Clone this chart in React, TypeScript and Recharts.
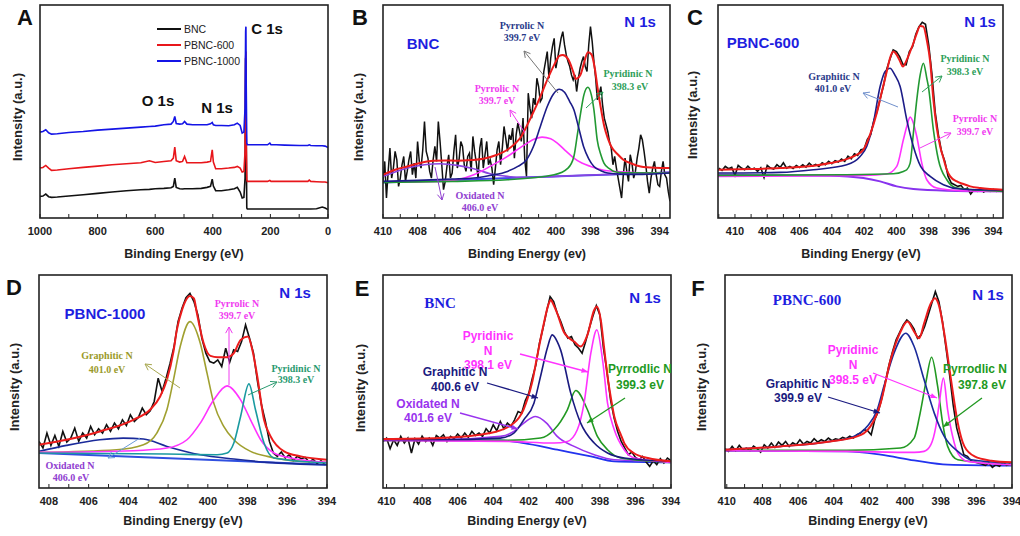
import React from "react";
import { LineChart, Line, XAxis, YAxis, Legend } from "recharts";

type Pt = [number, number];

const SANS = '"Liberation Sans", Arial, sans-serif';
const SERIF = '"Liberation Serif", "Times New Roman", serif';

// ---- survey (panel A) ----
const surveyEnergy = [1000, 990, 980, 970, 960, 940, 900, 850, 800, 750, 700, 650, 620, 600, 570, 545, 537, 532, 527, 515, 505, 498, 490, 470, 440, 420, 408, 402, 398, 390, 370, 345, 325, 315, 305, 298, 292, 288, 286, 285, 284, 282, 280, 270, 240, 210, 202, 198, 180, 150, 100, 70, 65, 60, 40, 20, 10, 0];
const surveyBNC = [65, 66, 72, 64, 62, 63, 66, 70, 74, 78, 82, 85, 86, 88, 89, 91, 95, 120, 92, 88, 87, 88, 88, 88, 89, 92, 95, 117, 96, 82, 82, 85, 88, 92, 78, 60, 62, 120, 480, 470, 250, 30, 27, 27, 27, 27, 27, 27, 27, 27, 27, 27, 27, 27, 28, 33, 30, 25];
const surveyPBNC600 = [150, 152, 158, 150, 143, 144, 148, 152, 156, 160, 163, 166, 172, 167, 170, 172, 180, 213, 172, 168, 170, 185, 166, 166, 166, 168, 170, 205, 168, 148, 148, 150, 152, 155, 150, 138, 140, 200, 480, 500, 250, 115, 110, 110, 110, 110, 113, 110, 110, 110, 110, 110, 114, 110, 109, 108, 108, 106];
const surveyPBNC1000 = [258, 260, 265, 256, 252, 253, 257, 260, 264, 267, 270, 273, 275, 276, 280, 282, 290, 305, 284, 282, 283, 290, 282, 280, 280, 280, 283, 287, 280, 278, 278, 277, 280, 285, 278, 255, 258, 330, 560, 575, 400, 225, 220, 220, 220, 220, 225, 220, 220, 219, 218, 218, 220, 218, 217, 217, 216, 212];
const surveySeries = ["BNC", "PBNC-600", "PBNC-1000"];
const surveyTicks = [0, 100, 200, 300, 400, 500, 600, 700, 800, 900, 1000];

// ---- panel B: BNC N 1s ----
const bRaw: Pt[] = [[410.0,110],[409.9,170],[409.8,60],[409.7,140],[409.6,210],[409.5,120],[409.4,150],[409.3,200],[409.2,175],[409.1,95],[409.0,120],[408.9,160],[408.8,185],[408.7,110],[408.6,140],[408.5,175],[408.4,200],[408.3,130],[408.2,165],[408.1,120],[408.0,230],[407.9,170],[407.8,150],[407.7,205],[407.6,290],[407.5,200],[407.4,180],[407.3,140],[407.2,120],[407.1,175],[407.0,215],[406.9,170],[406.8,290],[406.7,230],[406.6,160],[406.5,85],[406.4,110],[406.3,155],[406.2,190],[406.1,120],[406.0,135],[405.9,200],[405.8,250],[405.7,150],[405.6,175],[405.5,230],[405.4,215],[405.3,160],[405.2,140],[405.1,185],[405.0,195],[404.9,140],[404.8,245],[404.7,200],[404.6,165],[404.5,120],[404.4,210],[404.3,240],[404.2,150],[404.1,190],[404.0,230],[403.9,160],[403.8,175],[403.7,150],[403.6,100],[403.5,150],[403.4,205],[403.3,230],[403.2,160],[403.1,210],[403.0,275],[402.9,240],[402.8,200],[402.7,250],[402.6,235],[402.5,270],[402.4,180],[402.3,250],[402.2,285],[402.1,260],[402.0,230],[401.9,300],[401.8,175],[401.7,125],[401.6,375],[401.5,330],[401.4,300],[401.3,360],[401.2,340],[401.1,420],[401.0,395],[400.9,350],[400.8,360],[400.7,440],[400.6,470],[400.5,500],[400.4,420],[400.3,480],[400.2,515],[400.1,540],[400.0,450],[399.9,480],[399.8,510],[399.7,540],[399.6,560],[399.5,520],[399.4,490],[399.3,470],[399.2,455],[399.1,430],[399.0,415],[398.9,430],[398.8,380],[398.7,420],[398.6,450],[398.5,470],[398.4,485],[398.3,455],[398.2,440],[398.1,520],[398.0,575],[397.9,530],[397.8,470],[397.7,420],[397.6,355],[397.5,370],[397.4,395],[397.3,340],[397.2,300],[397.1,280],[397.0,260],[396.9,230],[396.8,210],[396.7,160],[396.6,185],[396.5,150],[396.4,120],[396.3,90],[396.2,60],[396.1,130],[396.0,180],[395.9,140],[395.8,110],[395.7,190],[395.6,165],[395.5,120],[395.4,140],[395.3,180],[395.2,210],[395.1,250],[395.0,235],[394.9,200],[394.8,160],[394.7,110],[394.6,75],[394.5,120],[394.4,150],[394.3,170],[394.2,130],[394.1,100],[394.0,95],[393.9,140],[393.8,170],[393.7,130],[393.6,120],[393.5,80],[393.4,50]];
const bFit: Pt[] = [[410,130],[409.3,145],[408.6,155],[407.8,166],[407.1,172],[406.4,173],[405.7,172],[404.9,174],[404.2,178],[403.4,190],[402.8,205],[402.4,222],[402.0,245],[401.7,275],[401.3,318],[400.9,365],[400.5,415],[400.1,460],[399.8,487],[399.6,490],[399.3,478],[399.0,440],[398.85,418],[398.6,428],[398.35,470],[398.15,498],[397.95,492],[397.75,450],[397.6,395],[397.4,330],[397.2,275],[397.0,240],[396.8,215],[396.4,190],[396.1,175],[395.6,163],[395.1,155],[394.3,151],[393.4,150]];
const bPyrrolicA: Pt[] = [[410,110],[408,113],[406,117],[404.75,120],[403.8,128],[402.8,140],[402.2,155],[401.7,175],[401.3,215],[400.9,275],[400.5,335],[400.15,372],[399.8,387],[399.5,378],[399.2,350],[398.96,325],[398.7,275],[398.4,215],[398.1,178],[397.8,155],[397.4,142],[397.0,135],[396,131],[395,131],[393.4,135]];
const bPyridinic: Pt[] = [[410,107],[406,110],[402.8,115],[400.1,130],[399.3,150],[398.96,185],[398.76,250],[398.57,315],[398.38,370],[398.15,393],[397.95,370],[397.8,325],[397.61,235],[397.4,190],[397.22,165],[396.9,148],[396.64,140],[396,136],[393.4,135]];
const bPyrrolicB: Pt[] = [[410,108],[406.7,110],[405.7,115],[404.75,130],[403.8,155],[402.8,185],[402.1,210],[401.66,225],[401.2,238],[400.8,243],[400.3,238],[399.92,225],[399.4,200],[398.96,180],[398.5,165],[397.99,155],[397.03,142],[396,138],[395.1,136],[393.4,135]];
const bOxidated: Pt[] = [[410,125],[409.3,138],[408.6,150],[407.6,160],[406.7,163],[405.7,158],[404.75,148],[403.8,133],[402.8,125],[401.85,122],[400,125],[398,129],[396,132],[393.4,137]];
const bBase: Pt[] = [[410,107],[393.4,137]];
const bTicks = [394, 395, 396, 397, 398, 399, 400, 401, 402, 403, 404, 405, 406, 407, 408, 409, 410];

// ---- panel C: PBNC-600 N 1s ----
const cRaw: Pt[] = [[411.0,150],[410.8,143],[410.6,155],[410.4,148],[410.2,152],[410.0,128],[409.8,158],[409.6,150],[409.4,145],[409.2,156],[409.0,146],[408.8,150],[408.6,140],[408.4,151],[408.2,122],[408.0,158],[407.8,150],[407.6,147],[407.4,160],[407.2,152],[407.0,166],[406.8,150],[406.6,155],[406.4,149],[406.2,158],[406.0,152],[405.8,160],[405.6,153],[405.4,165],[405.2,156],[405.0,161],[404.8,155],[404.6,166],[404.4,160],[404.2,170],[404.0,163],[403.8,172],[403.6,168],[403.4,177],[403.2,170],[403.0,186],[402.8,178],[402.6,193],[402.4,188],[402.2,205],[402.0,207],[401.8,236],[401.6,250],[401.4,292],[401.2,320],[401.0,360],[400.8,398],[400.6,447],[400.4,478],[400.2,505],[400.0,500],[399.8,485],[399.6,462],[399.4,460],[399.2,500],[399.0,515],[398.8,552],[398.6,575],[398.4,588],[398.2,582],[398.0,520],[397.8,432],[397.6,318],[397.4,250],[397.2,198],[397.0,170],[396.8,125],[396.6,105],[396.4,100],[396.2,95],[396.0,98],[395.8,85],[395.6,90],[395.4,72],[395.2,85],[395.0,80],[394.8,88],[394.6,78],[394.4,84],[394.2,80],[394.0,86],[393.8,80],[393.6,84],[393.4,82]];
const cFit: Pt[] = [[411.05,145],[409,147],[407.2,150],[405.1,157],[404.1,165],[402.9,180],[402.46,190],[402.05,205],[401.84,225],[401.6,255],[401.22,315],[400.9,380],[400.6,440],[400.4,480],[400.19,500],[399.98,490],[399.77,470],[399.6,455],[399.36,475],[399.15,500],[398.95,525],[398.74,555],[398.53,577],[398.33,575],[398.12,535],[397.91,470],[397.71,355],[397.5,270],[397.29,215],[397.09,180],[396.88,145],[396.67,125],[396.26,110],[395.85,102],[395.43,95],[394.8,90],[393.4,85]];
const cGraphitic: Pt[] = [[411.05,135],[407.2,137],[405.14,145],[403.08,160],[402.25,185],[401.84,215],[401.43,285],[401.01,395],[400.7,440],[400.4,450],[400.1,430],[399.77,395],[399.36,295],[398.95,215],[398.5,155],[397.91,125],[397.09,100],[396.06,87],[393.37,83]];
const cPyridinic: Pt[] = [[411.05,128],[403.08,130],[400.19,133],[399.57,140],[399.36,145],[399.15,165],[398.95,255],[398.74,355],[398.53,430],[398.33,465],[398.12,420],[398.02,395],[397.71,265],[397.4,175],[396.88,115],[396.26,90],[393.37,80]];
const cPyrrolic: Pt[] = [[411.05,125],[402,128],[400.6,132],[399.98,155],[399.57,235],[399.36,275],[399.15,303],[398.95,285],[398.74,245],[398.43,165],[398.12,115],[397.5,90],[396,82],[393.37,80]];
const cBase: Pt[] = [[411.05,130],[404.11,127],[402.05,120],[401.01,110],[399.98,95],[398.95,87],[396.88,82],[393.37,80]];
const cTicks = [394, 395, 396, 397, 398, 399, 400, 401, 402, 403, 404, 405, 406, 407, 408, 409, 410, 411];

// ---- panel D: PBNC-1000 N 1s ----
const dRaw: Pt[] = [[408.5,140],[408.3,120],[408.1,165],[407.9,128],[407.7,158],[407.5,125],[407.3,170],[407.1,138],[406.9,150],[406.7,180],[406.5,140],[406.3,165],[406.1,150],[405.9,185],[405.7,160],[405.5,178],[405.3,165],[405.1,190],[404.9,170],[404.7,195],[404.5,178],[404.3,205],[404.1,188],[403.9,220],[403.7,200],[403.5,212],[403.3,240],[403.1,220],[402.9,232],[402.7,260],[402.5,330],[402.3,290],[402.1,330],[401.9,375],[401.7,425],[401.5,500],[401.3,540],[401.1,572],[400.9,585],[400.7,560],[400.5,520],[400.3,450],[400.1,405],[399.9,380],[399.7,375],[399.5,385],[399.3,365],[399.1,420],[398.9,378],[398.7,415],[398.5,410],[398.3,440],[398.1,490],[397.9,450],[397.7,405],[397.5,320],[397.3,250],[397.1,200],[396.9,140],[396.7,105],[396.5,95],[396.3,108],[396.1,90],[395.9,100],[395.7,82],[395.5,95],[395.3,88],[395.1,92],[394.9,78],[394.7,86],[394.5,74],[394.3,82],[394.1,70]];
const dFit: Pt[] = [[408.5,130],[407.12,145],[405.44,170],[403.75,205],[402.91,235],[402.4,275],[402.06,325],[401.73,410],[401.56,475],[401.3,535],[401.14,560],[400.9,577],[400.7,570],[400.55,525],[400.21,435],[399.87,397],[399.5,393],[399.03,393],[398.69,405],[398.35,445],[397.98,455],[397.76,415],[397.51,335],[397.17,205],[396.84,155],[396.16,110],[395.32,95],[394,85]];
const dGraphitic: Pt[] = [[408.5,107],[404.59,115],[403.24,130],[402.57,165],[402.06,235],[401.73,325],[401.39,425],[400.9,500],[400.38,435],[400.04,345],[399.7,255],[399.2,185],[398.69,145],[397.85,110],[397.0,95],[395.32,80],[394,77]];
const dPyrrolic: Pt[] = [[408.5,107],[403.75,112],[402.06,120],[401.05,145],[400.38,195],[399.7,265],[399.03,307],[398.35,265],[397.85,205],[397.34,145],[396.67,105],[395.82,90],[394,77]];
const dPyridinic: Pt[] = [[408.5,105],[402.06,102],[399.53,100],[399.03,105],[398.69,135],[398.35,215],[397.93,313],[397.6,235],[397.17,135],[396.67,90],[394,75]];
const dOxidated: Pt[] = [[408.5,110],[407.12,128],[405.44,145],[404.26,150],[403.24,147],[402.06,125],[400.38,100],[398.69,87],[397,77],[394,70]];
const dBase: Pt[] = [[408.5,105],[394,70]];
const dTicks = [394, 395, 396, 397, 398, 399, 400, 401, 402, 403, 404, 405, 406, 407, 408];

// ---- panel E: BNC N 1s (refit) ----
const eRaw: Pt[] = [[410.2,140],[410.0,150],[409.8,118],[409.6,145],[409.4,128],[409.2,155],[409.0,135],[408.8,150],[408.6,105],[408.4,148],[408.2,132],[408.0,156],[407.8,140],[407.6,150],[407.4,128],[407.2,158],[407.0,150],[406.8,160],[406.6,140],[406.4,155],[406.2,148],[406.0,162],[405.8,150],[405.6,165],[405.4,152],[405.2,170],[405.0,158],[404.8,165],[404.6,155],[404.4,178],[404.2,165],[404.0,190],[403.8,172],[403.6,200],[403.4,178],[403.2,195],[403.0,185],[402.8,205],[402.6,230],[402.4,225],[402.2,262],[402.0,285],[401.8,330],[401.6,370],[401.4,435],[401.2,480],[401.0,530],[400.8,575],[400.6,560],[400.4,525],[400.2,500],[400.0,470],[399.8,450],[399.6,455],[399.4,430],[399.2,420],[399.0,405],[398.8,440],[398.6,480],[398.4,515],[398.2,548],[398.0,520],[397.8,420],[397.6,350],[397.4,265],[397.2,210],[397.0,170],[396.8,140],[396.6,120],[396.4,100],[396.2,108],[396.0,92],[395.8,85],[395.6,95],[395.4,78],[395.2,65],[395.0,82],[394.8,70],[394.6,88],[394.4,75],[394.2,90],[394.0,82]];
const eFit: Pt[] = [[410.2,147],[407,150],[404.16,165],[402.84,195],[402.3,235],[402.09,265],[401.8,320],[401.53,395],[401.15,495],[400.9,550],[400.77,565],[400.6,550],[400.4,525],[400.02,468],[399.83,455],[399.45,440],[399.08,425],[398.7,460],[398.32,535],[398.17,545],[397.95,505],[397.76,420],[397.57,335],[397.38,270],[397.19,215],[396.82,160],[396.63,135],[396.1,105],[395.3,90],[394,80]];
const eGraphitic: Pt[] = [[410.2,145],[407,145],[403.6,150],[402.84,165],[402.28,205],[401.71,255],[401.34,335],[400.96,420],[400.68,460],[400.4,440],[400.21,415],[399.64,285],[399.08,195],[398.32,135],[397.57,105],[396.63,90],[394,80]];
const eOxidated: Pt[] = [[410.2,145],[407,145],[403.6,155],[402.84,170],[402.28,195],[401.62,215],[401.0,195],[400.4,155],[399.45,125],[398.32,100],[397.19,85],[394,80]];
const ePyrrodlic: Pt[] = [[410.2,143],[403.2,143],[401.34,150],[400.58,175],[399.83,235],[399.36,293],[398.7,235],[398.14,155],[397.57,115],[396.82,90],[394,77]];
const ePyridinic: Pt[] = [[410.2,143],[403.2,140],[400.58,135],[399.83,140],[399.27,175],[398.89,255],[398.51,405],[398.17,475],[397.85,385],[397.57,255],[397.19,175],[396.63,115],[396.06,90],[394,77]];
const eBase: Pt[] = [[410.2,143],[403.6,143],[402.28,135],[400.4,115],[398.51,95],[397.19,80],[394,77]];
const eTicks = [394, 395, 396, 397, 398, 399, 400, 401, 402, 403, 404, 405, 406, 407, 408, 409, 410];

// ---- panel F: PBNC-600 N 1s (refit) ----
const fRaw: Pt[] = [[410.1,118],[409.9,110],[409.7,125],[409.5,112],[409.3,128],[409.1,115],[408.9,120],[408.7,112],[408.5,126],[408.3,118],[408.1,108],[407.9,130],[407.7,120],[407.5,135],[407.3,122],[407.1,138],[406.9,128],[406.7,140],[406.5,125],[406.3,136],[406.1,130],[405.9,145],[405.7,132],[405.5,140],[405.3,135],[405.1,148],[404.9,138],[404.7,145],[404.5,140],[404.3,150],[404.1,142],[403.9,148],[403.7,145],[403.5,152],[403.3,148],[403.1,156],[402.9,150],[402.7,160],[402.5,165],[402.3,175],[402.1,172],[401.9,160],[401.7,205],[401.5,230],[401.3,270],[401.1,320],[400.9,370],[400.7,410],[400.5,445],[400.3,468],[400.1,490],[399.9,505],[399.7,495],[399.5,478],[399.3,450],[399.1,460],[398.9,485],[398.7,520],[398.5,555],[398.3,590],[398.1,560],[397.9,500],[397.7,420],[397.5,340],[397.3,250],[397.1,180],[396.9,140],[396.7,100],[396.5,95],[396.3,82],[396.1,78],[395.9,75],[395.7,72],[395.5,68],[395.3,75],[395.1,62],[394.9,70],[394.7,65],[394.5,78],[394.3,68],[394.1,72]];
const fFit: Pt[] = [[410.1,115],[407,125],[404.2,140],[402.69,155],[401.94,185],[401.37,255],[400.81,385],[400.25,470],[399.87,500],[399.49,470],[399.21,450],[398.93,495],[398.55,555],[398.32,570],[398.08,545],[397.8,465],[397.42,325],[397.04,195],[396.67,125],[396.1,95],[395.16,82],[394,77]];
const fGraphitic: Pt[] = [[410.1,115],[407,125],[404.2,140],[402.88,155],[402.13,185],[401.56,235],[401.19,305],[400.62,405],[399.96,465],[399.49,425],[398.93,325],[398.36,225],[397.8,155],[397.04,110],[396.29,85],[394,75]];
const fPyrrodlic: Pt[] = [[410.1,113],[403.26,113],[400.25,120],[399.49,150],[399.19,215],[398.84,315],[398.51,393],[398.17,305],[397.89,195],[397.61,125],[397.04,85],[394,70]];
const fPyridinic: Pt[] = [[410.1,112],[403.26,110],[399.49,107],[398.93,110],[398.55,130],[398.27,185],[398.08,255],[397.85,330],[397.61,235],[397.33,155],[397.04,105],[396.48,80],[394,70]];
const fBase: Pt[] = [[410.1,112],[403.26,110],[401.37,100],[399.49,83],[397.61,70],[394,67]];
const fTicks = [394, 395, 396, 397, 398, 399, 400, 401, 402, 403, 404, 405, 406, 407, 408, 409, 410];

const RED = "#ec1c1c";
const BLACK = "#111111";

interface Curve { name: string; data: Pt[]; color: string; width?: number; smooth?: boolean }

const toPoints = (p: Pt[]) => p.map(([x, y]) => ({ x, y }));

const tickStyle = { fontSize: 11, fontWeight: "bold" as const, fontFamily: SANS, fill: "#222" };

function SpectrumPanel({ left, top, width, domain, ticks, curves }: { left: number; top: number; width: number; domain: [number, number]; ticks: number[]; curves: Curve[] }) {
  return (
    <div style={{ position: "absolute", left: left - 20, top: top - 5 }}>
      <LineChart width={width + 40} height={213 + 40} margin={{ top: 5, right: 20, bottom: 5, left: 20 }}>
        <XAxis
          type="number"
          dataKey="x"
          domain={domain}
          reversed
          allowDataOverflow
          ticks={ticks}
          interval={0}
          tickFormatter={(v: number) => (v % 2 === 0 ? String(v) : "")}
          tickSize={-4}
          tickMargin={13}
          axisLine={false}
          tickLine={{ stroke: "#222" }}
          tick={tickStyle}
          height={30}
        />
        <YAxis type="number" domain={[0, 640]} hide allowDataOverflow />
        {curves.map((c) => (
          <Line
            key={c.name}
            name={c.name}
            data={toPoints(c.data)}
            dataKey="y"
            type={c.smooth === false ? "linear" : "monotone"}
            stroke={c.color}
            strokeWidth={c.width ?? 1.6}
            dot={false}
            isAnimationActive={false}
          />
        ))}
      </LineChart>
    </div>
  );
}

const surveyData = surveyEnergy.map((e, i) => ({
  x: e,
  bnc: surveyBNC[i],
  p600: surveyPBNC600[i],
  p1000: surveyPBNC1000[i],
}));

function SurveyLegend(props: any) {
  const payload = [...(props.payload || [])].sort(
    (a: any, b: any) => surveySeries.indexOf(a.value) - surveySeries.indexOf(b.value)
  );
  return (
    <div>
      {payload.map((p: any) => (
        <div key={p.value} style={{ display: "flex", alignItems: "center", height: 16 }}>
          <svg width={24} height={4} style={{ display: "block" }}>
            <line x1={0} y1={2} x2={24} y2={2} stroke={p.color} strokeWidth={2} />
          </svg>
          <span style={{ marginLeft: 3, fontSize: 10.5, fontFamily: SANS, color: "#222" }}>{p.value}</span>
        </div>
      ))}
    </div>
  );
}

function SurveyPanel() {
  return (
    <div style={{ position: "absolute", left: 20, top: 0 }}>
      <LineChart width={328} height={253} data={surveyData} margin={{ top: 5, right: 20, bottom: 5, left: 20 }}>
        <XAxis
          type="number"
          dataKey="x"
          domain={[0, 1000]}
          reversed
          ticks={surveyTicks}
          interval={0}
          tickFormatter={(v: number) => (v % 200 === 0 ? String(v) : "")}
          tickSize={-4}
          tickMargin={13}
          axisLine={false}
          tickLine={{ stroke: "#222" }}
          tick={tickStyle}
          height={30}
        />
        <YAxis type="number" domain={[0, 640]} hide allowDataOverflow />
        <Legend
          layout="vertical"
          align="center"
          verticalAlign="middle"
          content={SurveyLegend}
          wrapperStyle={{ left: 137, top: 21, width: "auto", height: "auto" }}
        />
        <Line name={surveySeries[0]} dataKey="bnc" type="linear" stroke={BLACK} strokeWidth={1.6} dot={false} isAnimationActive={false} />
        <Line name={surveySeries[1]} dataKey="p600" type="linear" stroke="#e8161b" strokeWidth={1.6} dot={false} isAnimationActive={false} />
        <Line name={surveySeries[2]} dataKey="p1000" type="linear" stroke="#1414e6" strokeWidth={1.6} dot={false} isAnimationActive={false} />
      </LineChart>
    </div>
  );
}

function T({ x, y, text, color, size, family = SANS, weight = "bold", anchor = "middle" }: { x: number; y: number; text: string; color: string; size: number; family?: string; weight?: string; anchor?: string }) {
  return (
    <text x={x} y={y} fill={color} fontSize={size} fontFamily={family} fontWeight={weight} textAnchor={anchor as any} dominantBaseline="central">
      {text}
    </text>
  );
}

function Arrow({ from, to, color, width = 1, solid = false }: { from: Pt; to: Pt; color: string; width?: number; solid?: boolean }) {
  const [x1, y1] = from;
  const [x2, y2] = to;
  const a = Math.atan2(y2 - y1, x2 - x1);
  const len = 7;
  const spread = solid ? 0.38 : 0.5;
  const h1 = [x2 - len * Math.cos(a - spread), y2 - len * Math.sin(a - spread)];
  const h2 = [x2 - len * Math.cos(a + spread), y2 - len * Math.sin(a + spread)];
  return (
    <g>
      <line x1={x1} y1={y1} x2={x2} y2={y2} stroke={color} strokeWidth={width} />
      {solid ? (
        <polygon points={`${x2},${y2} ${h1[0]},${h1[1]} ${h2[0]},${h2[1]}`} fill={color} />
      ) : (
        <polyline points={`${h1[0]},${h1[1]} ${x2},${y2} ${h2[0]},${h2[1]}`} fill="none" stroke={color} strokeWidth={width} />
      )}
    </g>
  );
}

const frames = [
  { x: 40, y: 5, w: 288, h: 213 },
  { x: 383, y: 5, w: 287, h: 213 },
  { x: 718, y: 5, w: 285, h: 213 },
  { x: 39, y: 275, w: 288, h: 213 },
  { x: 383, y: 275, w: 288, h: 213 },
  { x: 725, y: 275, w: 287, h: 213 },
];

const HEAD = "#1e1ee0";
const NAVY_T = "#2a3a8a";
const MAG_T = "#f03cf0";
const GRN_T = "#2ea05a";
const PUR_T = "#9040d0";

function Overlay() {
  const yTitle = (x: number, y: number) => (
    <text x={x} y={y} transform={`rotate(-90 ${x} ${y})`} fontSize={13} fontWeight="bold" fontFamily={SANS} fill="#222" textAnchor="middle" dominantBaseline="central">
      Intensity (a.u.)
    </text>
  );
  return (
    <svg width={1020} height={536} style={{ position: "absolute", left: 0, top: 0, pointerEvents: "none" }}>
      {frames.map((f, i) => (
        <rect key={i} x={f.x} y={f.y} width={f.w} height={f.h} fill="none" stroke="#222" strokeWidth={1.6} />
      ))}
      {/* panel letters */}
      <T x={25} y={17} text="A" color="#111" size={22} />
      <T x={360} y={17} text="B" color="#111" size={22} />
      <T x={695} y={17} text="C" color="#111" size={22} />
      <T x={14} y={287} text="D" color="#111" size={22} />
      <T x={362} y={288} text="E" color="#111" size={22} />
      <T x={698} y={288} text="F" color="#111" size={22} />
      {/* axis titles */}
      <T x={184} y={254} text="Binding Energy (eV)" color="#222" size={12.5} />
      <T x={527} y={254} text="Binding Energy (ev)" color="#222" size={12.5} />
      <T x={861} y={254} text="Binding Energy (eV)" color="#222" size={12.5} />
      <T x={183} y={521} text="Binding Energy (eV)" color="#222" size={12.5} />
      <T x={527} y={521} text="Binding Energy (eV)" color="#222" size={12.5} />
      <T x={868} y={521} text="Binding Energy (eV)" color="#222" size={12.5} />
      {yTitle(17, 117)}
      {yTitle(358, 117)}
      {yTitle(692, 115)}
      {yTitle(14, 387)}
      {yTitle(360, 388)}
      {yTitle(701, 387)}
      {/* A */}
      <T x={267} y={28} text="C 1s" color="#111" size={15} />
      <T x={158} y={100} text="O 1s" color="#111" size={15} />
      <T x={217} y={107} text="N 1s" color="#111" size={15} />
      {/* B */}
      <T x={640} y={21} text="N 1s" color={HEAD} size={15} />
      <T x={423} y={43} text="BNC" color={HEAD} size={15} />
      <T x={522} y={25} text="Pyrrolic N" color={NAVY_T} size={10} family={SERIF} />
      <T x={522} y={37} text="399.7 eV" color={NAVY_T} size={10} family={SERIF} />
      <Arrow from={[558, 93]} to={[524, 51]} color="#777" />
      <T x={497} y={88} text="Pyrrolic N" color={MAG_T} size={10} family={SERIF} />
      <T x={497} y={100} text="399.7 eV" color={MAG_T} size={10} family={SERIF} />
      <Arrow from={[525, 133]} to={[510, 110]} color={MAG_T} />
      <T x={628} y={73} text="Pyridinic N" color={GRN_T} size={10} family={SERIF} />
      <T x={630} y={86} text="398.3 eV" color={GRN_T} size={10} family={SERIF} />
      <Arrow from={[586, 108]} to={[603, 92]} color={GRN_T} />
      <T x={480} y={195} text="Oxidated N" color={PUR_T} size={10} family={SERIF} />
      <T x={480} y={207} text="406.0 eV" color={PUR_T} size={10} family={SERIF} />
      <Arrow from={[435, 167]} to={[442, 200]} color={PUR_T} />
      {/* C */}
      <T x={980} y={21} text="N 1s" color={HEAD} size={15} />
      <T x={763} y={42} text="PBNC-600" color={HEAD} size={15} />
      <T x={834} y={76} text="Graphitic N" color={NAVY_T} size={10} family={SERIF} />
      <T x={833} y={88} text="401.0  eV" color={NAVY_T} size={10} family={SERIF} />
      <Arrow from={[898, 107]} to={[863, 93]} color="#7090cc" />
      <T x={965} y={58} text="Pyridinic N" color={GRN_T} size={10} family={SERIF} />
      <T x={965} y={71} text="398.3 eV" color={GRN_T} size={10} family={SERIF} />
      <Arrow from={[922, 92]} to={[942, 76]} color={GRN_T} />
      <T x={975} y={118} text="Pyrrolic N" color={MAG_T} size={10} family={SERIF} />
      <T x={975} y={131} text="399.7 eV" color={MAG_T} size={10} family={SERIF} />
      <Arrow from={[920, 148]} to={[951, 133]} color={MAG_T} />
      {/* D */}
      <T x={295} y={292} text="N 1s" color={HEAD} size={15} />
      <T x={105} y={313} text="PBNC-1000" color={HEAD} size={15} />
      <T x={107} y={355} text="Graphitic N" color="#9a9a2a" size={10} family={SERIF} />
      <T x={107} y={369} text="401.0  eV" color="#9a9a2a" size={10} family={SERIF} />
      <Arrow from={[180, 388]} to={[145, 364]} color="#a8a850" />
      <T x={237} y={303} text="Pyrrolic N" color={MAG_T} size={10} family={SERIF} />
      <T x={237} y={315} text="399.7 eV" color={MAG_T} size={10} family={SERIF} />
      <Arrow from={[229, 385]} to={[229, 327]} color={MAG_T} />
      <T x={296} y={368} text="Pyridinic N" color="#2a9a70" size={10} family={SERIF} />
      <T x={296} y={379} text="398.3 eV" color="#2a9a70" size={10} family={SERIF} />
      <Arrow from={[248, 395]} to={[277, 382]} color="#2a9a70" />
      <T x={70} y={465} text="Oxidated N" color={PUR_T} size={10} family={SERIF} />
      <T x={71} y={477} text="406.0 eV" color={PUR_T} size={10} family={SERIF} />
      <Arrow from={[140, 438]} to={[108, 458]} color="#6a9ad8" />
      {/* E */}
      <T x={645} y={297} text="N 1s" color={HEAD} size={15} />
      <T x={440} y={303} text="BNC" color={HEAD} size={15} family={SERIF} />
      <T x={488} y={336} text="Pyridinic" color="#ff33ff" size={12} />
      <T x={488} y={351} text="N" color="#ff33ff" size={12} />
      <T x={488} y={365} text="398.1 eV" color="#ff33ff" size={12} />
      <T x={455} y={372} text="Graphitic N" color="#1a1a80" size={12} />
      <T x={455} y={387} text="400.6 eV" color="#1a1a80" size={12} />
      <T x={428} y={404} text="Oxidated N" color="#9933ee" size={12} />
      <T x={428} y={418} text="401.6 eV" color="#9933ee" size={12} />
      <T x={640} y={369} text="Pyrrodlic N" color="#229922" size={12} />
      <T x={640} y={385} text="399.3 eV" color="#229922" size={12} />
      <Arrow from={[520, 354]} to={[588, 372]} color="#ff33ff" width={1.3} solid />
      <Arrow from={[487, 383]} to={[538, 398]} color="#1a1a80" width={1.3} solid />
      <Arrow from={[460, 413]} to={[518, 429]} color="#9933ee" width={1.3} solid />
      <Arrow from={[625, 398]} to={[587, 423]} color="#229922" width={1.3} solid />
      {/* F */}
      <T x={988} y={294} text="N 1s" color={HEAD} size={15} />
      <T x={807} y={300} text="PBNC-600" color={HEAD} size={15} family={SERIF} />
      <T x={853} y={350} text="Pyridinic" color="#ff33ff" size={12} />
      <T x={853} y={365} text="N" color="#ff33ff" size={12} />
      <T x={853} y={380} text="398.5 eV" color="#ff33ff" size={12} />
      <T x={798} y={384} text="Graphitic N" color="#1a1a80" size={12} />
      <T x={798} y={398} text="399.9 eV" color="#1a1a80" size={12} />
      <T x={975} y={369} text="Pyrrodlic N" color="#229922" size={12} />
      <T x={982} y={385} text="397.8 eV" color="#229922" size={12} />
      <Arrow from={[873, 373]} to={[937, 398]} color="#ff33ff" width={1.3} solid />
      <Arrow from={[828, 397]} to={[880, 413]} color="#1a1a80" width={1.3} solid />
      <Arrow from={[982, 398]} to={[943, 427]} color="#229922" width={1.3} solid />
    </svg>
  );
}

export default function App() {
  return (
    <div style={{ position: "absolute", left: 0, top: 0, width: 1020, height: 536, background: "#fff", overflow: "hidden" }}>
      <SurveyPanel />
      <SpectrumPanel
        left={383}
        top={5}
        width={287}
        domain={[393.4, 410]}
        ticks={bTicks}
        curves={[
          { name: "baseline", data: bBase, color: "#4444ee", width: 2 },
          { name: "raw", data: bRaw, color: BLACK, width: 1.5, smooth: false },
          { name: "oxidated", data: bOxidated, color: "#8a44e0" },
          { name: "pyrrolicB", data: bPyrrolicB, color: "#ff33ff" },
          { name: "pyridinic", data: bPyridinic, color: "#229933" },
          { name: "pyrrolicA", data: bPyrrolicA, color: "#1c1c88" },
          { name: "fit", data: bFit, color: RED, width: 2 },
        ]}
      />
      <SpectrumPanel
        left={718}
        top={5}
        width={285}
        domain={[393.4, 411.05]}
        ticks={cTicks}
        curves={[
          { name: "baseline", data: cBase, color: "#8833ee", width: 2 },
          { name: "raw", data: cRaw, color: BLACK, width: 1.6, smooth: false },
          { name: "pyrrolic", data: cPyrrolic, color: "#ff33ff" },
          { name: "pyridinic", data: cPyridinic, color: "#229933" },
          { name: "graphitic", data: cGraphitic, color: "#1c1c88" },
          { name: "fit", data: cFit, color: RED, width: 2 },
        ]}
      />
      <SpectrumPanel
        left={39}
        top={275}
        width={288}
        domain={[394, 408.5]}
        ticks={dTicks}
        curves={[
          { name: "baseline", data: dBase, color: "#3050e0", width: 2 },
          { name: "raw", data: dRaw, color: BLACK, width: 1.6, smooth: false },
          { name: "oxidated", data: dOxidated, color: "#1a2a9a" },
          { name: "graphitic", data: dGraphitic, color: "#a0a030" },
          { name: "pyrrolic", data: dPyrrolic, color: "#ff33ff" },
          { name: "pyridinic", data: dPyridinic, color: "#1a9aa0" },
          { name: "fit", data: dFit, color: RED, width: 2 },
        ]}
      />
      <SpectrumPanel
        left={383}
        top={275}
        width={288}
        domain={[394, 410.2]}
        ticks={eTicks}
        curves={[
          { name: "baseline", data: eBase, color: "#2233ee", width: 1.8 },
          { name: "raw", data: eRaw, color: BLACK, width: 1.6, smooth: false },
          { name: "oxidated", data: eOxidated, color: "#9933ee" },
          { name: "pyrrodlic", data: ePyrrodlic, color: "#229922" },
          { name: "pyridinic", data: ePyridinic, color: "#ff33ff" },
          { name: "graphitic", data: eGraphitic, color: "#1a1a80" },
          { name: "fit", data: eFit, color: RED, width: 2 },
        ]}
      />
      <SpectrumPanel
        left={725}
        top={275}
        width={287}
        domain={[394, 410.1]}
        ticks={fTicks}
        curves={[
          { name: "baseline", data: fBase, color: "#2233ee", width: 1.8 },
          { name: "raw", data: fRaw, color: BLACK, width: 1.6, smooth: false },
          { name: "pyrrodlic", data: fPyrrodlic, color: "#229922" },
          { name: "pyridinic", data: fPyridinic, color: "#ff33ff" },
          { name: "graphitic", data: fGraphitic, color: "#1a2a9a" },
          { name: "fit", data: fFit, color: RED, width: 2 },
        ]}
      />
      <Overlay />
    </div>
  );
}
